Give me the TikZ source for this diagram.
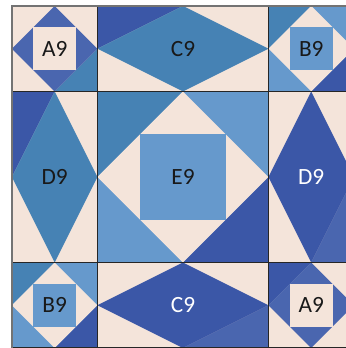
\documentclass[tikz,border=0pt]{standalone}
\usepackage{fontspec}
\setmainfont{Carlito}
\definecolor{qcream}{HTML}{F4E4DA}
\definecolor{qdark}{HTML}{3B57A7}
\definecolor{qmid}{HTML}{4A66AF}
\definecolor{qsteel}{HTML}{4682B4}
\definecolor{qlight}{HTML}{6699CC}

\begin{document}
\begin{tikzpicture}[x=2cm, y=2cm, every node/.style={font=\fontsize{15.5}{17}\selectfont}, edge/.style={draw=black!85, line width=0.8pt}]
	\clip (-0.14,0) rectangle (3.906,4.07);
	% A9, top left
	\fill[qcream] (0,3) rectangle (1,4);
	\fill[qsteel] (0.5,3) -- (1,3.5) -- (1,3) -- cycle;
	\fill[qmid] (0.5,4) -- (1,3.5) -- (0.5,3) -- (0,3.5) -- cycle;
	\fill[qcream] (0.25,3.25) rectangle (0.75,3.75);
	\node[text=black!90] (a9top) at (0.5,3.5) {A9};
	% C9, top middle
	\fill[qcream] (1,3) rectangle (3,4);
	\fill[qdark] (1,4) -- (2,4) -- (1,3.5) -- cycle;
	\fill[qsteel] (1,3.5) -- (2,4) -- (3,3.5) -- (2,3) -- cycle;
	\node[text=black!90] (c9top) at (2,3.5) {C9};
	% B9, top right
	\fill[qlight] (3,3) rectangle (4,4);
	\fill[qsteel] (3,4) -- (3.5,4) -- (3,3.5) -- cycle;
	\fill[qdark] (3.5,3) -- (4,3.5) -- (4,3) -- cycle;
	\fill[qcream] (3.5,4) -- (4,3.5) -- (3.5,3) -- (3,3.5) -- cycle;
	\fill[qlight] (3.25,3.25) rectangle (3.75,3.75);
	\node[text=black!90] (b9top) at (3.5,3.5) {B9};
	% D9, left
	\fill[qcream] (0,1) rectangle (1,3);
	\fill[qdark] (0,3) -- (0.5,3) -- (0,2) -- cycle;
	\fill[qsteel] (0.5,3) -- (1,2) -- (0.5,1) -- (0,2) -- cycle;
	\node[text=black!90] (d9left) at (0.5,2) {D9};
	% E9, centre
	\fill[qlight] (1,1) rectangle (3,3);
	\fill[qsteel] (1,3) -- (2,3) -- (1,2) -- cycle;
	\fill[qdark] (2,1) -- (3,2) -- (3,1) -- cycle;
	\fill[qcream] (2,3) -- (3,2) -- (2,1) -- (1,2) -- cycle;
	\fill[qlight] (1.5,1.5) rectangle (2.5,2.5);
	\node[text=black!90] (e9) at (2,2) {E9};
	% D9, right
	\fill[qcream] (3,1) rectangle (4,3);
	\fill[qmid] (3.5,1) -- (4,2) -- (4,1) -- cycle;
	\fill[qdark] (3.5,3) -- (4,2) -- (3.5,1) -- (3,2) -- cycle;
	\node[text=white] (d9right) at (3.5,2) {D9};
	% B9, bottom left
	\fill[qlight] (0,0) rectangle (1,1);
	\fill[qsteel] (0,1) -- (0.5,1) -- (0,0.5) -- cycle;
	\fill[qdark] (0.5,0) -- (1,0.5) -- (1,0) -- cycle;
	\fill[qcream] (0.5,1) -- (1,0.5) -- (0.5,0) -- (0,0.5) -- cycle;
	\fill[qlight] (0.25,0.25) rectangle (0.75,0.75);
	\node[text=black!90] (b9bot) at (0.5,0.5) {B9};
	% C9, bottom middle
	\fill[qcream] (1,0) rectangle (3,1);
	\fill[qmid] (2,0) -- (3,0.5) -- (3,0) -- cycle;
	\fill[qdark] (1,0.5) -- (2,1) -- (3,0.5) -- (2,0) -- cycle;
	\node[text=white] (c9bot) at (2,0.5) {C9};
	% A9, bottom right
	\fill[qcream] (3,0) rectangle (4,1);
	\fill[qdark] (3,1) -- (3.5,1) -- (3,0.5) -- cycle;
	\fill[qmid] (3.5,1) -- (4,0.5) -- (3.5,0) -- (3,0.5) -- cycle;
	\fill[qcream] (3.25,0.25) rectangle (3.75,0.75);
	\node[text=black!90] (a9bot) at (3.5,0.5) {A9};
	% block borders
	\draw[edge] (0,3) rectangle (1,4) (1,3) rectangle (3,4) (3,3) rectangle (4,4);
	\draw[edge] (0,1) rectangle (1,3) (1,1) rectangle (3,3) (3,1) rectangle (4,3);
	\draw[edge] (0,0) rectangle (1,1) (1,0) rectangle (3,1) (3,0) rectangle (4,1);
	\draw[black!55, line width=1.1pt] (0,0) -- (0,4) -- (4,4);
\end{tikzpicture}
\end{document}
